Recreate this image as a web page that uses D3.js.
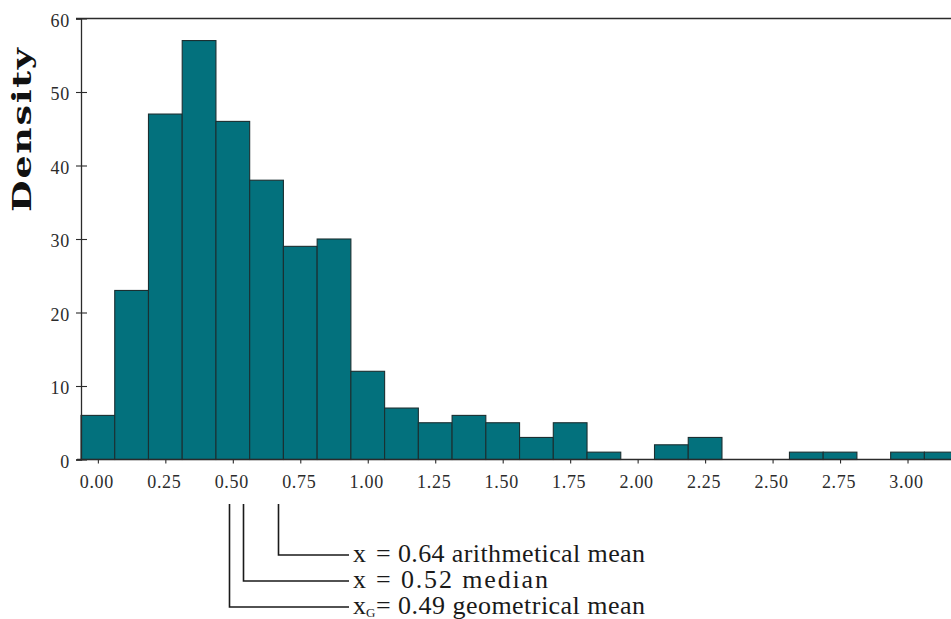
<!DOCTYPE html>
<html><head><meta charset="utf-8">
<script src="https://cdn.jsdelivr.net/npm/d3@7"></script>
<style>body{margin:0;background:#fff;overflow:hidden}</style>
</head><body><svg id="c" width="951" height="619"></svg>
<script>
// ---- data ----
const binCenters = [0,0.125,0.25,0.375,0.5,0.625,0.75,0.875,1.0,1.125,1.25,1.375,1.5,1.625,1.75,1.875,2.0,2.125,2.25,2.375,2.5,2.625,2.75,2.875,3.0,3.125];
const densities  = [6,23,47,57,46,38,29,30,12,7,5,6,5,3,5,1,0,2,3,0,0,1,1,0,1,1];
const binWidth = 0.125;
const xTicks = [0,0.25,0.5,0.75,1.0,1.25,1.5,1.75,2.0,2.25,2.5,2.75,3.0];
const yTicks = [0,10,20,30,40,50,60];
const markerAt     = [0.668, 0.538, 0.486];
const markerSymbol = ["x", "x", "x"];
const markerSub    = ["", "", "G"];
const markerValue  = ["0.64", "0.52", "0.49"];
const markerName   = ["arithmetical mean", "median", "geometrical mean"];
const yLabel = "Density";

// ---- drawing ----
const svg = d3.select("#c");
const L = 81, R = 951, T = 18.5, B = 459.5;
const x = d3.scaleLinear().domain([-0.0625, 3.1611]).range([L, R]);
const y = d3.scaleLinear().domain([0, 60]).range([B, T]);
const ink = "#2b2b2b";
const serif = "'Liberation Serif','Times New Roman',serif";

// bars
svg.append("g").selectAll("rect")
  .data(binCenters.map((c,i)=>({c, v: densities[i]})).filter(d=>d.v>0))
  .join("rect")
  .attr("x", d=>x(d.c - binWidth/2))
  .attr("width", d=>x(d.c + binWidth/2) - x(d.c - binWidth/2))
  .attr("y", d=>y(d.v))
  .attr("height", d=>y(0) - y(d.v))
  .attr("fill", "#03717d")
  .attr("stroke", "#1b2f31")
  .attr("stroke-width", 1.1);

// top frame line
svg.append("line").attr("x1", 76).attr("x2", R).attr("y1", T).attr("y2", T)
  .attr("stroke", ink).attr("stroke-width", 1.3);

// y axis
const gy = svg.append("g").attr("transform", `translate(${L},0)`)
  .call(d3.axisLeft(y).tickValues(yTicks).tickFormat(d3.format("d")).tickSize(5).tickPadding(6));
gy.select(".domain").attr("stroke", ink).attr("stroke-width", 1.3);
gy.selectAll(".tick line").attr("x1", 6).attr("stroke", ink).attr("stroke-width", 1.1);
gy.selectAll(".tick text").attr("font-family", serif).attr("font-size", 18)
  .attr("fill", ink).attr("letter-spacing", 0.8).attr("dy", "0.42em");

// x axis
const gx = svg.append("g").attr("transform", `translate(0,${B})`)
  .call(d3.axisBottom(x).tickValues(xTicks).tickFormat(d3.format(".2f")).tickSize(4).tickPadding(12));
gx.select(".domain").remove();
gx.append("line").attr("x1", 77).attr("x2", R).attr("y1", 0).attr("y2", 0)
  .attr("stroke", ink).attr("stroke-width", 1.3);
gx.selectAll(".tick line").attr("stroke", ink).attr("stroke-width", 1.1);
gx.selectAll(".tick text").attr("font-family", serif).attr("font-size", 18)
  .attr("fill", ink).attr("letter-spacing", 0.7).attr("dx", -1.5);

// y label (wide bold serif)
svg.append("text")
  .attr("transform", "translate(31,130) rotate(-90) scale(1.4,1)")
  .attr("text-anchor", "middle")
  .attr("font-family", "'DejaVu Serif',serif").attr("font-weight", "bold")
  .attr("font-size", 26).attr("fill", "#111")
  .attr("textLength", 117).attr("lengthAdjust", "spacing")
  .text(yLabel);

// annotation markers
const lineY = [555, 581, 607];
const textEnd = [645, 548, 645];
const ann = svg.append("g");
markerAt.forEach((m, i) => {
  const mx = Math.round(x(m)) + 0.5;
  ann.append("path")
    .attr("d", `M${mx},504V${lineY[i]}H349`)
    .attr("fill", "none").attr("stroke", "#1a1a1a").attr("stroke-width", 1.6);
  const t = ann.append("text").attr("x", 353).attr("y", lineY[i] + 7)
    .attr("font-family", serif).attr("font-size", 26).attr("fill", "#1a1a1a");
  t.append("tspan").text(markerSymbol[i]);
  if (markerSub[i]) {
    t.append("tspan").attr("font-size", 13).attr("dy", 3).text(markerSub[i]);
  }
  const rest = t.append("tspan").attr("x", 376).attr("y", lineY[i] + 7)
    .text(`= ${markerValue[i]} ${markerName[i]}`);
  const n = rest.text().length;
  const w = rest.node().getComputedTextLength();
  rest.attr("letter-spacing", Math.max(0, (textEnd[i] - 376 - w) / (n - 1)));
});
</script></body></html>
